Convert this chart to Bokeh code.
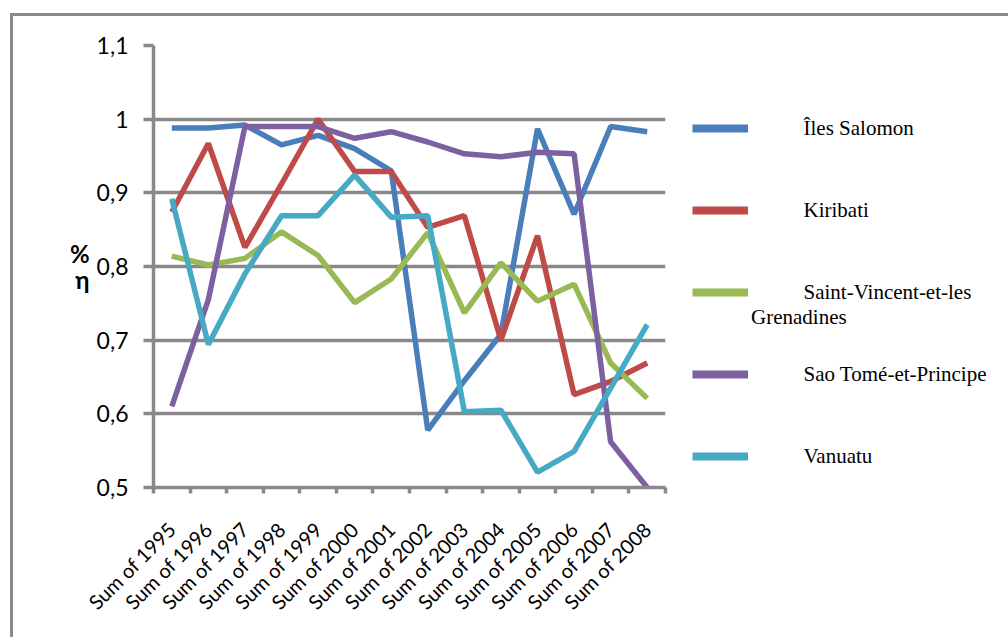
import math
from bokeh.plotting import figure
from bokeh.models import Range1d, FixedTicker, Legend, LegendItem
from bokeh.embed import file_html
from bokeh.resources import INLINE

# ---- data ----
categories = ["Sum of 1995", "Sum of 1996", "Sum of 1997", "Sum of 1998", "Sum of 1999",
              "Sum of 2000", "Sum of 2001", "Sum of 2002", "Sum of 2003", "Sum of 2004",
              "Sum of 2005", "Sum of 2006", "Sum of 2007", "Sum of 2008"]
iles_salomon = [0.988, 0.988, 0.992, 0.965, 0.978, 0.960, 0.930, 0.578, 0.645, 0.708, 0.987, 0.871, 0.990, 0.983]
kiribati = [0.874, 0.967, 0.826, 0.912, 1.000, 0.929, 0.929, 0.853, 0.869, 0.700, 0.842, 0.626, 0.644, 0.669]
saint_vincent = [0.814, 0.802, 0.811, 0.847, 0.815, 0.751, 0.783, 0.846, 0.737, 0.805, 0.753, 0.776, 0.669, 0.621]
sao_tome = [0.610, 0.755, 0.990, 0.990, 0.990, 0.974, 0.983, 0.969, 0.953, 0.949, 0.955, 0.953, 0.562, 0.500]
vanuatu = [0.892, 0.694, 0.790, 0.869, 0.869, 0.924, 0.867, 0.869, 0.603, 0.605, 0.521, 0.549, 0.635, 0.721]
series_names = ["Îles Salomon", "Kiribati", "Saint-Vincent-et-les", "Sao Tomé-et-Principe", "Vanuatu"]
series_wrap = ["", "", "Grenadines", "", ""]   # second line of a wrapped legend label
series_values = [iles_salomon, kiribati, saint_vincent, sao_tome, vanuatu]
series_colors = ["#4a7ebb", "#be4b48", "#98b954", "#7d60a0", "#46aac5"]
y_ticks = [0.5, 0.6, 0.7, 0.8, 0.9, 1.0, 1.1]
y_tick_labels = ["0,5", "0,6", "0,7", "0,8", "0,9", "1", "1,1"]
y_axis_label = "%\nη"

GRAY = "#898989"
NB = "\u00a0"
INDENT = NB * 10
n = len(categories)
xs = [i + 0.5 for i in range(n)]

p = figure(frame_width=512, frame_height=442, output_backend="svg", toolbar_location=None,
           x_range=Range1d(0, n), y_range=Range1d(0.5, 1.1),
           min_border_left=140, min_border_top=29, min_border_right=340, min_border_bottom=150,
           background_fill_color="white", border_fill_color="white")
p.outline_line_color = None
p.styles = {"margin-left": "10px", "margin-top": "13px",
            "border-top": f"3px solid {GRAY}", "border-left": f"3px solid {GRAY}"}

# y axis
p.yaxis.ticker = FixedTicker(ticks=y_ticks)
p.yaxis.major_label_overrides = dict(zip(y_ticks, y_tick_labels))
p.yaxis.axis_line_color = GRAY
p.yaxis.axis_line_width = 3.5
p.yaxis.major_tick_line_color = GRAY
p.yaxis.major_tick_line_width = 3.5
p.yaxis.major_tick_out = 10
p.yaxis.major_tick_in = 0
p.yaxis.minor_tick_line_color = None
p.yaxis.major_label_text_font = "Lato"
p.yaxis.major_label_text_font_size = "23px"
p.yaxis.major_label_text_color = "black"
p.yaxis.major_label_standoff = 15
p.yaxis.axis_label = y_axis_label
p.yaxis.axis_label_orientation = "horizontal"
p.yaxis.axis_label_text_font = "Lato"
p.yaxis.axis_label_text_font_style = "bold"
p.yaxis.axis_label_text_font_size = "24px"
p.yaxis.axis_label_text_line_height = 0.9
p.yaxis.axis_label_text_color = "black"
p.yaxis.axis_label_standoff = 4

# x axis: labels at category centres, tick marks at category boundaries
p.xaxis.ticker = FixedTicker(ticks=xs, minor_ticks=list(range(n + 1)))
p.xaxis.major_label_overrides = dict(zip(xs, categories))
p.xaxis.axis_line_color = GRAY
p.xaxis.axis_line_width = 3.5
p.xaxis.major_tick_out = 0
p.xaxis.major_tick_in = 0
p.xaxis.major_tick_line_color = None
p.xaxis.minor_tick_line_color = GRAY
p.xaxis.minor_tick_line_width = 3.5
p.xaxis.minor_tick_out = 6
p.xaxis.minor_tick_in = 0
p.xaxis.major_label_orientation = math.pi / 4
p.xaxis.major_label_text_font = "Lato"
p.xaxis.major_label_text_font_size = "20px"
p.xaxis.major_label_text_color = "black"
p.xaxis.major_label_standoff = 32

p.xgrid.visible = False
p.ygrid.grid_line_color = GRAY
p.ygrid.grid_line_width = 3.5

items = []
for name, wrap, vals, col in zip(series_names, series_wrap, series_values, series_colors):
    p.line(xs, vals, line_color=col, line_width=5.5)
    swatch = p.line(xs, vals, line_color=col, line_width=8, visible=False)
    # three-line block so the swatch lines up with the first visible line
    label = NB + "\n" + INDENT + name + "\n" + (wrap if wrap else NB)
    items.append(LegendItem(label=label, renderers=[swatch]))

legend = Legend(items=items, location=(27, -7), orientation="vertical",
                padding=0, margin=0, spacing=6, glyph_width=56, glyph_height=22,
                label_height=76, label_standoff=3,
                border_line_color=None, background_fill_alpha=0)
legend.label_text_font = "Liberation Serif"
legend.label_text_font_size = "21px"
legend.label_text_color = "black"
p.add_layout(legend, "right")

open("out.html", "w").write(file_html(p, INLINE))
